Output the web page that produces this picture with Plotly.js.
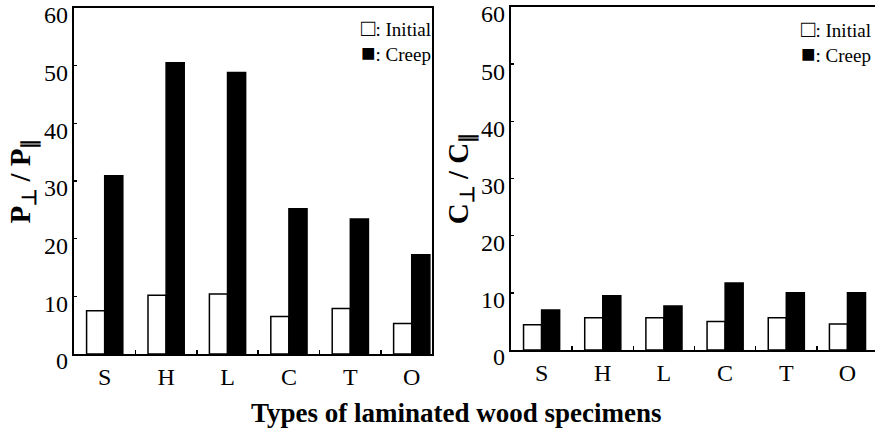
<!DOCTYPE html>
<html><head><meta charset="utf-8">
<script src="https://cdn.plot.ly/plotly-3.0.1.min.js"></script>
<style>html,body{margin:0;padding:0;background:#fff}</style>
</head><body><div id="chart" style="width:875px;height:432px"></div>
<script>
const categories = ['S', 'H', 'L', 'C', 'T', 'O'];
const pInitial = [7.5, 10.2, 10.4, 6.5, 7.9, 5.3];
const pCreep = [30.9, 50.5, 48.8, 25.2, 23.4, 17.2];
const cInitial = [4.4, 5.65, 5.65, 5.0, 5.65, 4.55];
const cCreep = [7.0, 9.5, 7.7, 11.7, 10.0, 10.0];
const yTicks = [0, 10, 20, 30, 40, 50, 60];
const seriesNames = ['Initial', 'Creep'];
const legendMarks = ['□', '■'];
const xTitle = 'Types of laminated wood specimens';
const yTitleLeft = 'P<sub>⊥</sub> / P<sub>∥</sub>';
const yTitleRight = 'C<sub>⊥</sub> / C<sub>∥</sub>';

const SERIF = 'Liberation Serif';

function bar(y, name, fill, xa, ya) {
  return {
    type: 'bar', x: categories, y: y, name: name,
    xaxis: xa, yaxis: ya, showlegend: false,
    marker: {color: fill, line: {color: '#000', width: 1.5}},
    hoverinfo: 'x+y'
  };
}

const data = [
  bar(pInitial, seriesNames[0], '#fff', 'x', 'y'),
  bar(pCreep, seriesNames[1], '#000', 'x', 'y'),
  bar(cInitial, seriesNames[0], '#fff', 'x2', 'y2'),
  bar(cCreep, seriesNames[1], '#000', 'x2', 'y2')
];

function xAxis(domain, range, anchor) {
  return {
    domain: domain, range: range, anchor: anchor, type: 'category',
    showline: true, linecolor: '#000', linewidth: 2, mirror: true,
    ticks: 'inside', tickson: 'boundaries', ticklen: 4, tickwidth: 1.5, tickcolor: '#000',
    tickfont: {family: SERIF, size: 24, color: '#000'},
    ticklabelstandoff: 0,
    showgrid: false, zeroline: false, fixedrange: true
  };
}
// main y axis: line, ticks and title (labels drawn by the label axis below)
function yAxis(domain, anchor, title, standoff) {
  return {
    domain: domain, range: [0, 60], anchor: anchor,
    tickmode: 'array', tickvals: yTicks, showticklabels: false,
    showline: true, linecolor: '#000', linewidth: 2, mirror: true,
    ticks: 'inside', ticklen: 3, tickwidth: 1.5, tickcolor: '#000',
    showgrid: false, zeroline: false, fixedrange: true,
    title: {text: title, font: {family: SERIF, size: 29, color: '#000', weight: 'bold'}, standoff: standoff}
  };
}
// label axis: same scale, drawn 7px lower as in the reference
function yLabelAxis(domain, anchor) {
  return {
    domain: domain, range: [0, 60], anchor: anchor,
    tickmode: 'array', tickvals: yTicks,
    showline: false, ticks: '', showgrid: false, zeroline: false, fixedrange: true,
    tickfont: {family: SERIF, size: 24, color: '#000'},
    ticklabelstandoff: 5
  };
}

function legendText(xPx, yPx) {
  return {
    text: legendMarks.map((m, i) => '<span style="font-size:24px">' + m + '</span>: ' + seriesNames[i]).join('<br>'),
    xref: 'paper', yref: 'paper', align: 'left',
    x: xPx/875, y: 1 - yPx/432, xanchor: 'right', yanchor: 'top', showarrow: false,
    font: {family: SERIF, size: 19, color: '#000'}
  };
}

const layout = {
  width: 875, height: 432,
  margin: {l: 0, r: 0, t: 0, b: 0},
  paper_bgcolor: '#fff', plot_bgcolor: 'rgba(0,0,0,0)',
  barmode: 'group', bargap: 0.41, bargroupgap: 0,
  font: {family: SERIF, color: '#000'},
  showlegend: false,
  xaxis: xAxis([74/875, 432/875], [-0.5, 5.33], 'y'),
  yaxis: yAxis([78/432, 424/432], 'x', yTitleLeft, 33),
  yaxis3: yLabelAxis([71/432, 417/432], 'x'),
  xaxis2: xAxis([511/875, 1], [-0.5, 5.45], 'y2'),
  yaxis2: yAxis([82/432, 425/432], 'x2', yTitleRight, 32),
  yaxis4: yLabelAxis([75/432, 418/432], 'x2'),
  annotations: [
    {
      text: '<b>' + xTitle + '</b>', xref: 'paper', yref: 'paper',
      x: 457/875, y: 19/432, xanchor: 'center', yanchor: 'middle', showarrow: false,
      font: {family: SERIF, size: 27, color: '#000'}
    },
    legendText(433, 13), legendText(873, 14)
  ]
};

// empty traces so the label axes are drawn
data.push({type: 'scatter', x: [], y: [], xaxis: 'x', yaxis: 'y3', showlegend: false, hoverinfo: 'skip'});
data.push({type: 'scatter', x: [], y: [], xaxis: 'x2', yaxis: 'y4', showlegend: false, hoverinfo: 'skip'});

Plotly.newPlot('chart', data, layout, {displayModeBar: false, staticPlot: true});
</script></body></html>
